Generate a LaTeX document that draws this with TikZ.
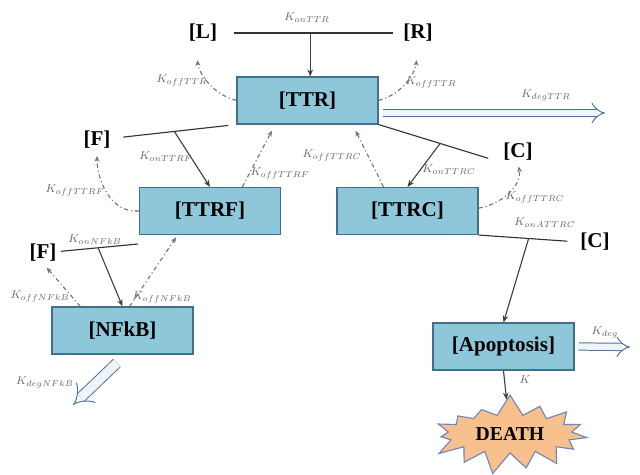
\documentclass[tikz,border=0pt]{standalone}
\usepackage{fontspec}
\setmainfont{Liberation Serif}
\usetikzlibrary{shapes.symbols, arrows.meta}

\definecolor{boxblue}{HTML}{8FC7DA}
\definecolor{boxedge}{HTML}{41708E}
\definecolor{deathfill}{HTML}{F8C08C}
\definecolor{deathedge}{HTML}{6F86B8}
\definecolor{degedge}{HTML}{4F7398}
\definecolor{degfill}{HTML}{EEF4FA}

\tikzset{
    species/.style={draw=boxedge, fill=boxblue, line width=0.9pt, minimum width=3.52cm, minimum height=1.17cm, font=\fontsize{15}{18}\selectfont\bfseries},
    ligand/.style={inner sep=1pt, font=\fontsize{15}{18}\selectfont\bfseries},
    death/.style={starburst, starburst points=15, starburst point height=0.55cm, random starburst=7, draw=deathedge, fill=deathfill, line width=0.8pt, minimum width=4.2cm, minimum height=2.05cm, font=\fontsize{14}{16}\selectfont\bfseries},
    rate/.style={inner sep=0pt, text=black!60, font=\fontsize{8}{9}\selectfont},
    bar/.style={draw=black!80, line width=0.8pt},
    onarr/.style={draw=black!75, line width=0.8pt, -{Stealth[length=5pt, width=4pt]}},
    offarr/.style={draw=black!55, line width=0.8pt, dash dot, -{Stealth[length=4pt, width=3.5pt]}},
    degarr/.style={draw=degedge, line width=0.7pt, double=degfill, double distance=4.5pt, -{Implies}}
}

\begin{document}
\begin{tikzpicture}[x=0.025cm, y=-0.025cm]
        \useasboundingbox (0, 0) rectangle (640, 475);

        \node [species] (TTR) at (307.5, 100.5) {[TTR]};
        \node [species] (TTRF) at (210, 211) {[TTRF]};
        \node [species] (TTRC) at (407.5, 211) {[TTRC]};
        \node [species] (NFkB) at (122.5, 330.5) {[NFkB]};
        \node [species] (Apop) at (503.5, 346.5) {[Apoptosis]};
        \node [death] (Death) at (510, 434) {DEATH};

        \node [ligand] (L) at (203, 33) {[L]};
        \node [ligand] (R) at (418, 33) {[R]};
        \node [ligand] (F1) at (97, 140) {[F]};
        \node [ligand] (C1) at (518, 152) {[C]};
        \node [ligand] (C2) at (595, 242) {[C]};
        \node [ligand] (F2) at (43, 253) {[F]};

        \coordinate (eF2) at (138, 244);
        \coordinate (degTTR) at (605, 113);
        \coordinate (degApop) at (630, 347);
        \coordinate (degNFkB) at (73, 405);

        \draw [bar, shorten <=11pt, shorten >=6pt] (L) -- (R) coordinate [midway] (mL);
        \draw [bar, shorten <=8pt, shorten >=6pt] (F1) -- (TTR.south west) coordinate [midway] (mF1);
        \draw [bar, shorten >=10pt] (TTR.south east) -- (C1.south west) coordinate [midway] (mC1);
        \draw [bar, shorten >=8pt] (TTRC.south east) -- (C2.west) coordinate [midway] (mC2);
        \draw [bar, shorten <=2pt] (F2) -- (eF2) coordinate [midway] (mF2);

        \draw [onarr] (mL) -- (mL |- TTR.north);
        \draw [onarr] (mF1) -- (TTRF.north);
        \draw [onarr] (mC1) -- (TTRC.north);
        \draw [onarr] (mC2) -- (Apop.north);
        \draw [onarr] (mF2) -- (NFkB.north);
        \draw [onarr] (Apop.south) -- (Death);

        \draw [offarr, shorten >=12pt] (TTR.west) to [out=165, in=-85] ([xshift=-5pt]L.south);
        \draw [offarr, shorten >=12pt] (TTR.east) to [out=15, in=-95] (R.south);
        \draw [offarr, shorten >=4pt] (TTRF.west) to [out=185, in=-90] (F1.south);
        \draw [offarr, shorten >=5pt] ([xshift=23pt]TTRF.north) -- ([xshift=-23pt]TTR.south);
        \draw [offarr, shorten >=5pt] ([xshift=-17pt]TTRC.north) -- ([xshift=32pt]TTR.south);
        \draw [offarr, shorten >=3pt] ([yshift=2pt]TTRC.east) to [out=10, in=-80] (C1.south);
        \draw [offarr, shorten >=4pt] ([xshift=-30pt]NFkB.north) -- (F2.south);
        \draw [offarr, shorten >=2pt] ([xshift=5pt]NFkB.north) -- ([xshift=-23pt]TTRF.south);

        \draw [degarr] ([xshift=3pt]TTR.east |- degTTR) -- (degTTR);
        \draw [degarr] ([xshift=3pt]Apop.east) -- (degApop);
        \draw [degarr, double distance=6.5pt] ([xshift=-4pt, yshift=-6pt]NFkB.south) -- (degNFkB);

        \node [rate] (kOnTTR) at (307, 18) {$K_{onTTR}$};
        \node [rate] (kOffTTRa) at (182, 80) {$K_{offTTR}$};
        \node [rate] (kOffTTRb) at (431, 82) {$K_{offTTR}$};
        \node [rate] (kDegTTR) at (546, 95) {$K_{degTTR}$};
        \node [rate] (kOnTTRF) at (166, 157) {$K_{onTTRF}$};
        \node [rate] (kOffTTRFa) at (75, 190) {$K_{offTTRF}$};
        \node [rate] (kOffTTRFb) at (280, 173) {$K_{offTTRF}$};
        \node [rate] (kOffTTRCa) at (332, 155) {$K_{offTTRC}$};
        \node [rate] (kOnTTRC) at (449, 170) {$K_{onTTRC}$};
        \node [rate] (kOffTTRCb) at (535, 197) {$K_{offTTRC}$};
        \node [rate] (kOnATTRC) at (545, 223) {$K_{onATTRC}$};
        \node [rate] (kOnNFkB) at (95, 240) {$K_{onNFkB}$};
        \node [rate] (kOffNFkBa) at (40, 296) {$K_{offNFkB}$};
        \node [rate] (kOffNFkBb) at (162, 297) {$K_{offNFkB}$};
        \node [rate] (kDegNFkB) at (45, 382) {$K_{degNFkB}$};
        \node [rate] (kDeg) at (605, 332) {$K_{deg}$};
        \node [rate] (kDeath) at (525, 380) {$K$};
    \end{tikzpicture}
\end{document}
